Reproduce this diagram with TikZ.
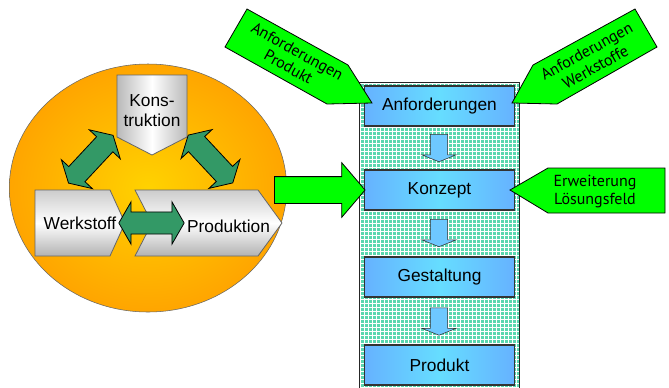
\documentclass[tikz,border=0pt]{standalone}
\usepackage{fontspec}
\setmainfont{Liberation Sans}
\newfontfamily\pfeilfont{PT Sans}
\usepackage{tikz}
\usetikzlibrary{shapes.geometric, shapes.arrows, patterns}

\definecolor{hellgruen}{RGB}{0,255,0}
\definecolor{dunkelgruen}{RGB}{51,153,102}
\definecolor{orangeaussen}{RGB}{255,165,0}
\definecolor{gelbinnen}{RGB}{255,210,0}
\definecolor{blaurand}{RGB}{102,178,255}
\definecolor{blaumitte}{RGB}{102,221,255}
\definecolor{mint}{RGB}{90,215,175}
\definecolor{pfeilblau}{RGB}{110,200,255}

\begin{document}
\begin{tikzpicture}[x=0.75pt, y=-0.75pt,
    schritt/.style={rectangle, draw=black!80, line width=0.9pt, left color=blaurand, right color=blaurand, middle color=blaumitte, minimum width=113pt, minimum height=30pt, inner sep=0pt, font=\fontsize{13}{15}\selectfont},
    runter/.style={single arrow, draw=black!80, fill=pfeilblau, rotate=-90, anchor=tail, minimum height=20.6pt, minimum width=25pt, single arrow head extend=6.25pt, single arrow tip angle=136, inner xsep=0pt, inner ysep=6.25pt},
    zusammen/.style={double arrow, draw=black, line width=0.6pt, fill=dunkelgruen, minimum height=49pt, minimum width=31pt, double arrow head extend=7.6pt, double arrow tip angle=120, inner xsep=0pt, inner ysep=8pt},
    eingabe/.style={draw=black, line width=0.6pt, fill=hellgruen},
    pfeiltext/.style={align=center, inner sep=0pt, font=\pfeilfont\fontsize{12}{13.5}\selectfont},
    grau/.style={draw=black!60, line width=0.6pt},
    beschriftung/.style={align=center, inner sep=0pt, font=\fontsize{13}{15}\selectfont}]
    \useasboundingbox (0,0) rectangle (669,387);

    % Umfeld mit Konstruktion, Werkstoff und Produktion
    \node[ellipse, draw=black!60, inner color=gelbinnen, outer color=orangeaussen, minimum width=208pt, minimum height=186pt] (umfeld) at (148,188) {};
    \draw[grau, left color=gray!55, right color=gray!55, middle color=white] (117,75) -- (187,75) -- (187,137) -- (152,155) -- (117,137) -- cycle;
    \node[beschriftung] (konstruktion) at (152,111) {Kons-\\truktion};
    \draw[grau, top color=gray!40, bottom color=gray!60, middle color=white] (35,190) -- (110,190) -- (125,223) -- (110,256) -- (35,256) -- cycle;
    \node[beschriftung] (werkstoff) at (80,223.5) {Werkstoff};
    \draw[grau, top color=gray!40, bottom color=gray!60, middle color=white] (135,190) -- (258,190) -- (282,223) -- (258,256) -- (135,256) -- (152,223) -- cycle;
    \node[beschriftung] (produktion) at (228.5,226.5) {Produktion};
    \node[zusammen] (wp) at (151.5,223) {};
    \node[zusammen, rotate=47] (wk) at (90.8,159.2) {};
    \node[zusammen, rotate=-47] (kp) at (210.5,159) {};

    % Prozesssaeule
    \node[rectangle, draw=black!85, line width=1.1pt, preaction={fill=mint}, pattern=grid, pattern color=white, minimum width=120pt, minimum height=235pt, anchor=north west] (saeule) at (359,82) {};
    \node[schritt] (anforderungen) at (439.5,106) {Anforderungen};
    \node[schritt] (konzept) at (439.5,190) {Konzept};
    \node[schritt] (gestaltung) at (439.5,277) {Gestaltung};
    \node[schritt] (produkt) at (439.5,365) {Produkt};
    \node[runter] (runter1) at (439,134) {};
    \node[runter] (runter2) at (439,219) {};
    \node[runter] (runter3) at (439,307.5) {};

    % Eingaben
    \node[single arrow, eingabe, anchor=tail, minimum height=68pt, minimum width=40.5pt, single arrow head extend=10.5pt, single arrow tip angle=99, inner xsep=0pt, inner ysep=9.75pt] (uebergang) at (274,190) {};
    \draw[eingabe] (225,47) -- (247,9) -- (348,65) -- (372,103) -- (327,104) -- cycle;
    \node[pfeiltext, rotate=-29] (anfprodukt) at (293,59) {Anforderungen\\Produkt};
    \draw[eingabe] (657,47) -- (635,9) -- (533,65) -- (512,103) -- (557,104) -- cycle;
    \node[pfeiltext, rotate=29] (anfwerkstoffe) at (591,59) {Anforderungen\\Werkstoffe};
    \draw[eingabe] (510,190) -- (548,168) -- (665,168) -- (665,213) -- (548,213) -- cycle;
    \node[pfeiltext] (erweiterung) at (595,192) {Erweiterung\\Lösungsfeld};
\end{tikzpicture}
\end{document}
